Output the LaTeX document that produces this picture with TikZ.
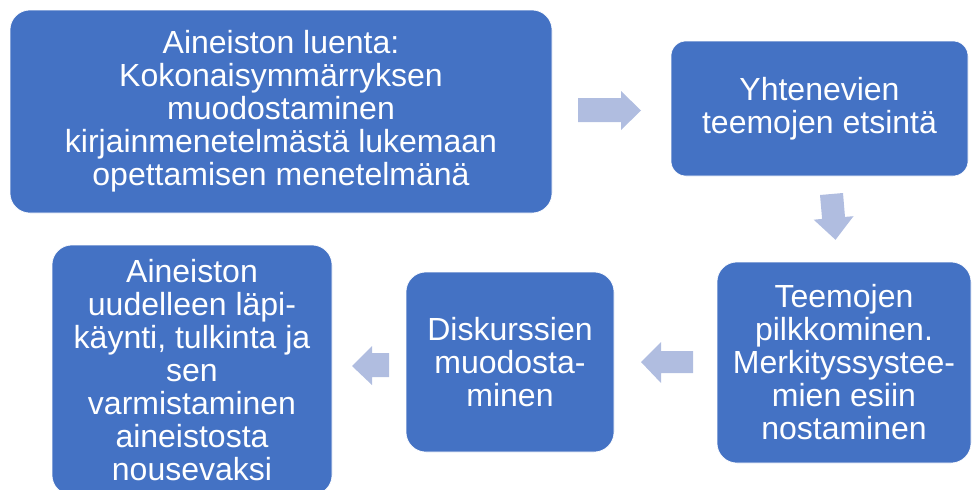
\documentclass[tikz,border=0pt]{standalone}
\usepackage{fontspec}
\setmainfont{Liberation Sans}
\definecolor{boxblue}{HTML}{4472C4}
\definecolor{arrowblue}{HTML}{B0BDE0}
\begin{document}
\begin{tikzpicture}[x=1pt,y=-1pt,
  box/.style={fill=boxblue, draw=white, line width=0.6pt, rounded corners=20pt,
    text=white, align=center, inner sep=0pt,
    font=\fontsize{32}{33}\selectfont},
  blockarrow/.style={fill=arrowblue}]
\useasboundingbox (0,0) rectangle (972,490);
\node[box, minimum width=542pt, minimum height=203pt] (b1) at (281,111.5)
  {Aineiston luenta:\\Kokonaisymmärryksen\\muodostaminen\\kirjainmenetelmästä lukemaan\\opettamisen menetelmänä};
\node[box, rounded corners=15pt, minimum width=297pt, minimum height=135pt] (b2) at (819.5,108.5)
  {Yhtenevien\\teemojen etsintä};
\node[box, minimum width=254pt, minimum height=201pt] (b3) at (844,362.5)
  {Teemojen\\pilkkominen.\\Merkityssystee-\\mien esiin\\nostaminen};
\node[box, minimum width=208pt, minimum height=180pt] (b4) at (510,362)
  {Diskurssien\\muodosta-\\minen};
\node[box, minimum width=280pt, minimum height=250pt] (b5) at (192,370)
  {Aineiston\\uudelleen läpi-\\käynti, tulkinta ja\\sen\\varmistaminen\\aineistosta\\nousevaksi};
% block arrows
\fill[blockarrow] (578,98) -- (621,98) -- (621,91) -- (641,110.5) -- (621,130) -- (621,122) -- (578,122) -- cycle;
\fill[blockarrow] (820.0,195.0) -- (843.0,193.0) -- (845.0,216.9) -- (853.5,216.2) -- (835.5,239.8) -- (813.7,219.7) -- (822.1,218.9) -- cycle;
\fill[blockarrow] (693,351) -- (661,351) -- (661,342) -- (641,362) -- (661,383) -- (661,373) -- (693,373) -- cycle;
\fill[blockarrow] (389,353) -- (372,353) -- (372,346) -- (352,366) -- (372,385) -- (372,377) -- (389,377) -- cycle;
\end{tikzpicture}
\end{document}
